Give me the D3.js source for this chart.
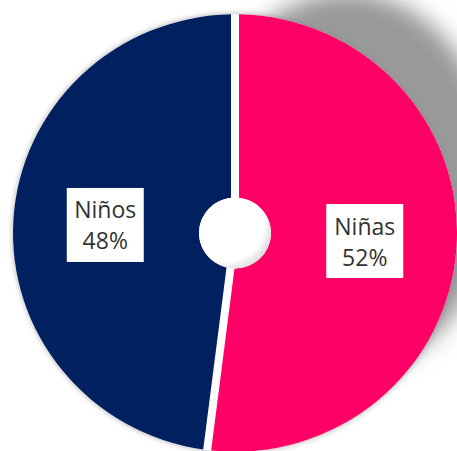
<!DOCTYPE html>
<html>
<head>
<meta charset="utf-8">
<script src="https://cdn.jsdelivr.net/npm/d3@7"></script>
<style>
  html, body { margin: 0; padding: 0; background: #fff; }
  svg { display: block; }
</style>
</head>
<body>
<svg id="chart" width="457" height="451"></svg>
<script>
// Distribución por sexo
const categories = ["Niñas", "Niños"];
const values = [52, 48];
const colors = ["#FF0066", "#002060"];

const width = 457, height = 451;
const cx = 235, cy = 233;
const outerR = 222, innerR = 36;
const squash = 0.985;        // slight vertical flattening of the disc
const gap = 8;               // white separator width between slices
const labelR = 130;

const svg = d3.select("#chart");
const defs = svg.append("defs");

defs.append("filter").attr("id", "bigShadow")
  .attr("x", "-50%").attr("y", "-50%").attr("width", "200%").attr("height", "200%")
  .append("feGaussianBlur").attr("stdDeviation", 11);

defs.append("filter").attr("id", "halo")
  .attr("x", "-10%").attr("y", "-10%").attr("width", "120%").attr("height", "120%")
  .append("feGaussianBlur").attr("stdDeviation", 2.5);

const holeGrad = defs.append("radialGradient").attr("id", "holeGrad")
  .attr("cx", 0.38).attr("cy", 0.38).attr("r", 0.72);
holeGrad.append("stop").attr("offset", 0).attr("stop-color", "#ffffff");
holeGrad.append("stop").attr("offset", 0.72).attr("stop-color", "#ffffff");
holeGrad.append("stop").attr("offset", 1).attr("stop-color", "#cfcfcf");

// Soft shadow cast toward the upper right
svg.append("ellipse")
  .attr("cx", 347).attr("cy", 182)
  .attr("rx", 150).attr("ry", 190)
  .attr("fill", "#999")
  .attr("filter", "url(#bigShadow)");

const disc = svg.append("g")
  .attr("transform", `translate(${cx},${cy}) scale(1,${squash})`);

// Thin halo round the rim, then a white base so the separators stay clean
disc.append("circle").attr("r", outerR + 1)
  .attr("fill", "#8a8a8a").attr("opacity", 0.55)
  .attr("filter", "url(#halo)");
disc.append("circle").attr("r", outerR).attr("fill", "#fff");

const pie = d3.pie().sort(null).value(d => d.value);
const data = pie(categories.map((c, i) => ({ name: c, value: values[i], color: colors[i] })));

const padR = Math.sqrt(outerR * outerR + innerR * innerR);
const arc = d3.arc()
  .innerRadius(innerR)
  .outerRadius(outerR)
  .padRadius(padR)
  .padAngle(gap / padR);

disc.selectAll("path.slice")
  .data(data)
  .join("path")
  .attr("class", "slice")
  .attr("d", arc)
  .attr("fill", d => d.data.color);

disc.append("circle").attr("r", innerR).attr("fill", "url(#holeGrad)");

// Data labels in white boxes
const labelArc = d3.arc().innerRadius(labelR).outerRadius(labelR);
const labels = svg.append("g").attr("transform", `translate(${cx},${cy})`);
const lab = labels.selectAll("g.label")
  .data(data)
  .join("g")
  .attr("class", "label")
  .attr("transform", d => {
    const [x, y] = labelArc.centroid(d);
    return `translate(${x},${y * squash})`;
  });

lab.append("rect")
  .attr("x", -38.5).attr("y", -37)
  .attr("width", 77).attr("height", 74)
  .attr("fill", "#fff");

const txt = lab.append("text")
  .attr("text-anchor", "middle")
  .attr("font-family", "'Open Sans', sans-serif")
  .attr("font-size", 23)
  .attr("fill", "#333");
txt.append("tspan").attr("x", 0).attr("y", -6.5).text(d => d.data.name);
txt.append("tspan").attr("x", 0).attr("y", 24.5).text(d => d3.format(".0%")(d.data.value / d3.sum(values)));
</script>
</body>
</html>
